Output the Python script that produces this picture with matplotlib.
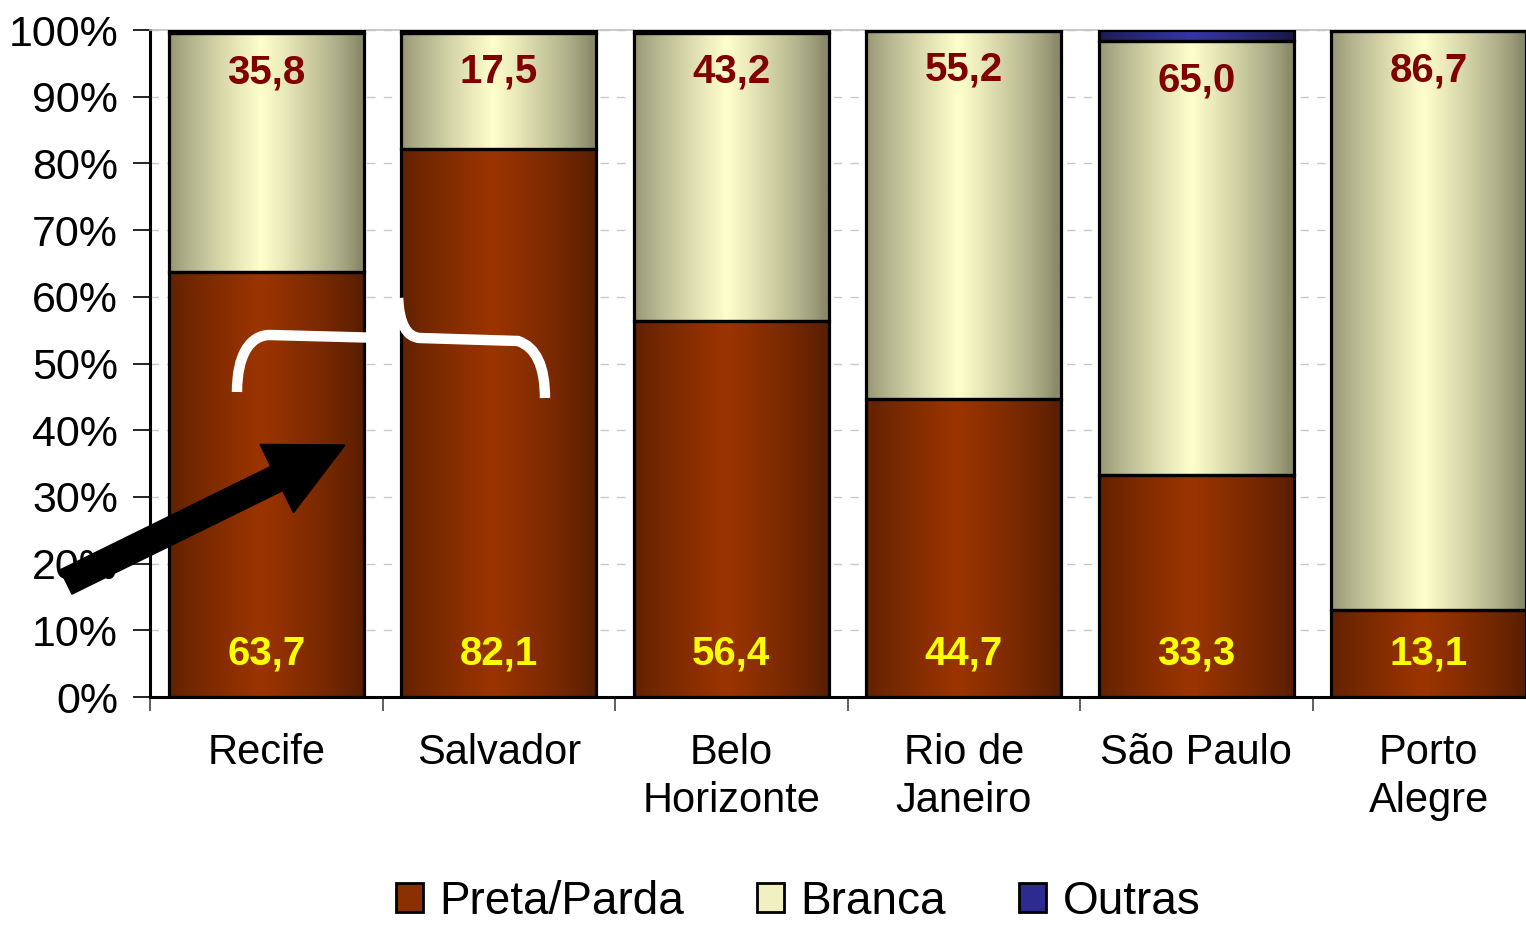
import numpy as np
import matplotlib
matplotlib.use("Agg")
import matplotlib.pyplot as plt
from matplotlib.colors import LinearSegmentedColormap
from matplotlib.patches import FancyArrow
from matplotlib.path import Path
from matplotlib.patches import PathPatch, Patch
from matplotlib.transforms import IdentityTransform

plt.rcParams['font.family'] = ['Liberation Sans', 'DejaVu Sans']

# data
cities = ["Recife", "Salvador", "Belo\nHorizonte", "Rio de\nJaneiro", "São Paulo", "Porto\nAlegre"]
preta = [63.7, 82.1, 56.4, 44.7, 33.3, 13.1]
branca = [35.8, 17.5, 43.2, 55.2, 65.0, 86.7]
outras = [100 - p - b for p, b in zip(preta, branca)]
series_names = ["Preta/Parda", "Branca", "Outras"]
yticks = list(range(0, 101, 10))

# gradient colours (edge, centre) and flat legend colours
grad = {
    "Preta/Parda": ("#5a1f00", "#9c3400"),
    "Branca": ("#8a8a6a", "#ffffcc"),
    "Outras": ("#181848", "#3535a5"),
}
legend_col = {"Preta/Parda": "#8a2f00", "Branca": "#f0f0c0", "Outras": "#2c2c90"}

fig = plt.figure(figsize=(15.26, 9.26), dpi=100)
ax = fig.add_axes([0.0983, 0.2473, 0.9142, 0.7203])

x = np.arange(len(cities))
width = 0.84
t = np.linspace(0, 1, 256)
prof = np.clip(1 - np.abs(t - 0.47) / 0.5, 0, 1) ** 0.8

bottom = np.zeros(len(cities))
for name, vals in zip(series_names, [preta, branca, outras]):
    edge, centre = grad[name]
    cmap = LinearSegmentedColormap.from_list(name, [edge, centre])
    bars = ax.bar(x, vals, width, bottom=bottom, facecolor="none",
                  edgecolor="black", linewidth=2.3, zorder=4)
    for b in bars:
        x0, y0 = b.get_x(), b.get_y()
        im = ax.imshow(prof[None, :], cmap=cmap, vmin=0, vmax=1, aspect="auto",
                       extent=(x0, x0 + b.get_width(), y0, y0 + b.get_height()),
                       zorder=3, interpolation="bilinear")
        im.set_clip_path(b)
    bottom = bottom + np.array(vals)

# value labels
for i in range(len(cities)):
    ax.text(x[i], 6.5, f"{preta[i]:.1f}".replace(".", ","), ha="center", va="center",
            color="#ffff00", fontsize=29, fontweight="bold", zorder=6)
    ax.text(x[i], preta[i] + branca[i] - 5.8, f"{branca[i]:.1f}".replace(".", ","),
            ha="center", va="center", color="#800000", fontsize=29,
            fontweight="bold", zorder=6)

ax.set_xlim(-0.5, len(cities) - 0.5)
ax.set_ylim(0, 100)
ax.set_yticks(yticks)
ax.set_yticklabels([f"{v}%" for v in yticks], fontsize=31)
ax.set_xticks(x)
ax.set_xticklabels(cities, fontsize=30, linespacing=1.25)
ax.set_xticks(np.arange(-0.5, len(cities), 1), minor=True)
ax.tick_params(axis="x", which="major", length=0, pad=26)
ax.tick_params(axis="x", which="minor", length=10, width=1.2, color="#444444")
ax.tick_params(axis="y", length=12, width=1.2, pad=11)
ax.yaxis.grid(True, color="#c8c8c8", linestyle=(0, (6, 6)), linewidth=1)
ax.set_axisbelow(True)
for s in ["top", "right"]:
    ax.spines[s].set_color("#c0c0c0")
    ax.spines[s].set_linewidth(1.2)
ax.spines["left"].set_linewidth(2.2)
ax.spines["bottom"].set_linewidth(2.2)

# legend
handles = [Patch(facecolor=legend_col[n], edgecolor="black", linewidth=2)
           for n in series_names]
fig.legend(handles, series_names, loc="center", bbox_to_anchor=(0.523, 0.026),
           ncol=3, frameon=False, fontsize=33, handlelength=0.58, handleheight=0.58,
           handletextpad=0.36, columnspacing=1.6, borderpad=0.2)

# white brace annotation (figure pixels, origin bottom-left)
H = 926
pts = [(237, H - 392), (237, H - 355), (250, H - 335), (270, H - 335),
       (385, H - 338), (398, H - 330), (398, H - 298),
       (398, H - 298), (400, H - 337), (420, H - 338),
       (518, H - 341), (545, H - 350), (545, H - 398)]
codes = [Path.MOVETO, Path.CURVE4, Path.CURVE4, Path.CURVE4,
         Path.LINETO, Path.CURVE3, Path.CURVE3,
         Path.MOVETO, Path.CURVE3, Path.CURVE3,
         Path.LINETO, Path.CURVE3, Path.CURVE3]
brace = PathPatch(Path(pts, codes), facecolor="none", edgecolor="white",
                  linewidth=7.5, transform=IdentityTransform(), zorder=7,
                  capstyle="butt")
fig.add_artist(brace)

# black arrow
x0, y0 = 66, H - 582
x1, y1 = 345, H - 445
arrow = FancyArrow(x0, y0, x1 - x0, y1 - y0, width=27, head_width=76,
                   head_length=76, length_includes_head=True, color="black",
                   transform=IdentityTransform(), zorder=8)
fig.add_artist(arrow)

fig.savefig("out.png", dpi=100)
